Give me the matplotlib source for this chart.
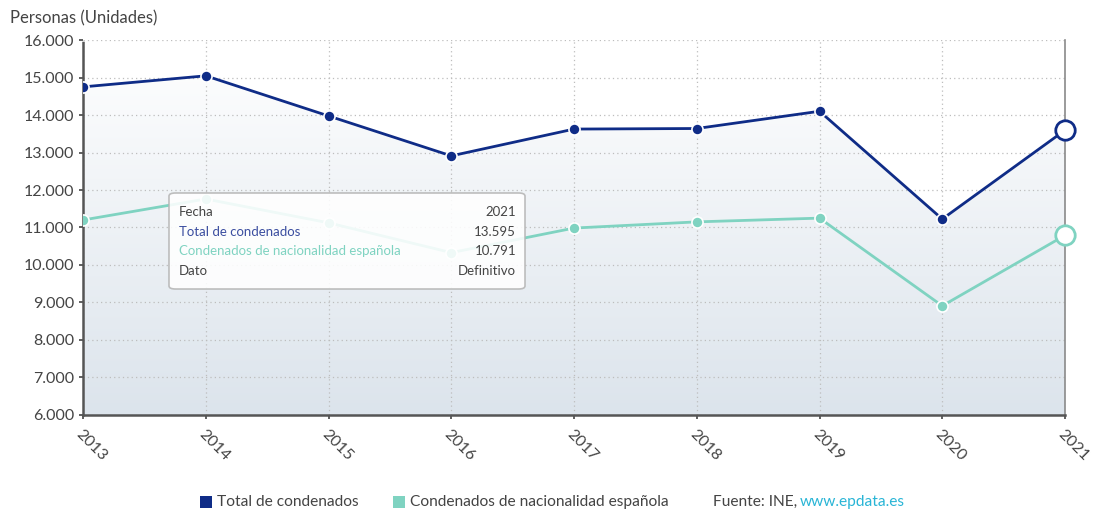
import numpy as np
import matplotlib.pyplot as plt
from matplotlib.patches import FancyBboxPatch, Rectangle, Polygon

plt.rcParams['font.family'] = ['Lato', 'DejaVu Sans']

years = [2013, 2014, 2015, 2016, 2017, 2018, 2019, 2020, 2021]
total = [14750, 15045, 13975, 12910, 13625, 13640, 14100, 11225, 13595]
espanoles = [11200, 11760, 11125, 10330, 10985, 11150, 11250, 8910, 10791]
yticks = [6000, 7000, 8000, 9000, 10000, 11000, 12000, 13000, 14000, 15000, 16000]

navy = '#0f2c87'
teal = '#7fd3c1'
grey_txt = '#444444'

def miles(v):
    return f'{v:,}'.replace(',', '.')

fig = plt.figure(figsize=(10.94, 5.11), dpi=100)
ax = fig.add_axes([0.0759, 0.1879, 0.8976, 0.7338])
ax.set_xlim(years[0], years[-1])
ax.set_ylim(6000, 16000)

# gradient fill under the total series
grad = np.linspace(0, 1, 256).reshape(-1, 1)
img = ax.imshow(grad, extent=[years[0], years[-1], 6000, 16000], aspect='auto',
                cmap=plt.matplotlib.colors.LinearSegmentedColormap.from_list(
                    'g', ['#dce4ec', '#ffffff']), origin='lower', zorder=0)
verts = list(zip(years, total)) + [(years[-1], 6000), (years[0], 6000)]
clip = Polygon(verts, closed=True, transform=ax.transData, facecolor='none', edgecolor='none')
ax.add_patch(clip)
img.set_clip_path(clip)

ax.set_xticks(years)
ax.set_yticks(yticks)
ax.set_yticklabels([miles(v) for v in yticks])
ax.set_xticklabels([str(y) for y in years], rotation=-45, ha='left', va='top',
                   rotation_mode='anchor')
ax.tick_params(axis='both', labelsize=11.5, colors=grey_txt, length=3, width=1.2)
ax.tick_params(axis='x', pad=6)
ax.grid(True, color='#bdbdbd', linestyle=(0, (1, 2.5)), linewidth=0.9, zorder=1)

ax.spines['top'].set_visible(False)
ax.spines['right'].set_color('#8a8a8a')
ax.spines['right'].set_linewidth(1.2)
for s in ['left', 'bottom']:
    ax.spines[s].set_color('#555555')
    ax.spines[s].set_linewidth(1.8)
    ax.spines[s].set_linestyle((0, (1, 1)))

ax.plot(years, total, color=navy, lw=2, zorder=3)
ax.plot(years[:-1], total[:-1], 'o', color=navy, ms=8, mec='white', mew=1.2, zorder=4)
ax.plot(years[-1], total[-1], 'o', color='white', ms=14, mec=navy, mew=2, zorder=5,
        clip_on=False)

ax.plot(years, espanoles, color=teal, lw=2, zorder=3)
ax.plot(years[:-1], espanoles[:-1], 'o', color=teal, ms=8, mec='white', mew=1.2, zorder=4)
ax.plot(years[-1], espanoles[-1], 'o', color='white', ms=14, mec=teal, mew=2, zorder=5,
        clip_on=False)

fig.text(10 / 1094, 1 - 18 / 511, 'Personas (Unidades)', fontsize=12, color=grey_txt,
         va='center', ha='left')

# tooltip box for the last year
W, H = 1094, 511
box = FancyBboxPatch((169 / W, 1 - 289 / H), 356 / W, 96 / H,
                     boxstyle='round,pad=0,rounding_size=0.006',
                     transform=fig.transFigure, facecolor='white', alpha=0.88,
                     edgecolor='#b5b5b5', linewidth=1.2, zorder=10)
fig.patches.append(box)
rows = [('Fecha', str(years[-1]), grey_txt),
        ('Total de condenados', miles(total[-1]), '#3b4ea0'),
        ('Condenados de nacionalidad española', miles(espanoles[-1]), teal),
        ('Dato', 'Definitivo', grey_txt)]
for i, (k, v, c) in enumerate(rows):
    yy = 1 - (212 + i * 19.5) / H
    fig.text(179 / W, yy, k, color=c, fontsize=9.5, va='center', ha='left', zorder=11)
    fig.text(516 / W, yy, v, color=grey_txt, fontsize=9.5, va='center', ha='right', zorder=11)

# legend and source line
ly = 1 - 502 / H
fig.patches.append(Rectangle((200 / W, ly - 6 / H), 12 / W, 12 / H, transform=fig.transFigure,
                             facecolor=navy, edgecolor='none'))
fig.text(217 / W, ly, 'Total de condenados', fontsize=11.2, color=grey_txt, va='center')
fig.patches.append(Rectangle((393 / W, ly - 6 / H), 12 / W, 12 / H, transform=fig.transFigure,
                             facecolor=teal, edgecolor='none'))
fig.text(410 / W, ly, 'Condenados de nacionalidad española', fontsize=11.2, color=grey_txt,
         va='center')
fig.text(713 / W, ly, 'Fuente: INE, ', fontsize=11.2, color=grey_txt, va='center')
fig.text(800 / W, ly, 'www.epdata.es', fontsize=11.2, color='#29b5d6', va='center')

fig.savefig('out.png', dpi=100)
